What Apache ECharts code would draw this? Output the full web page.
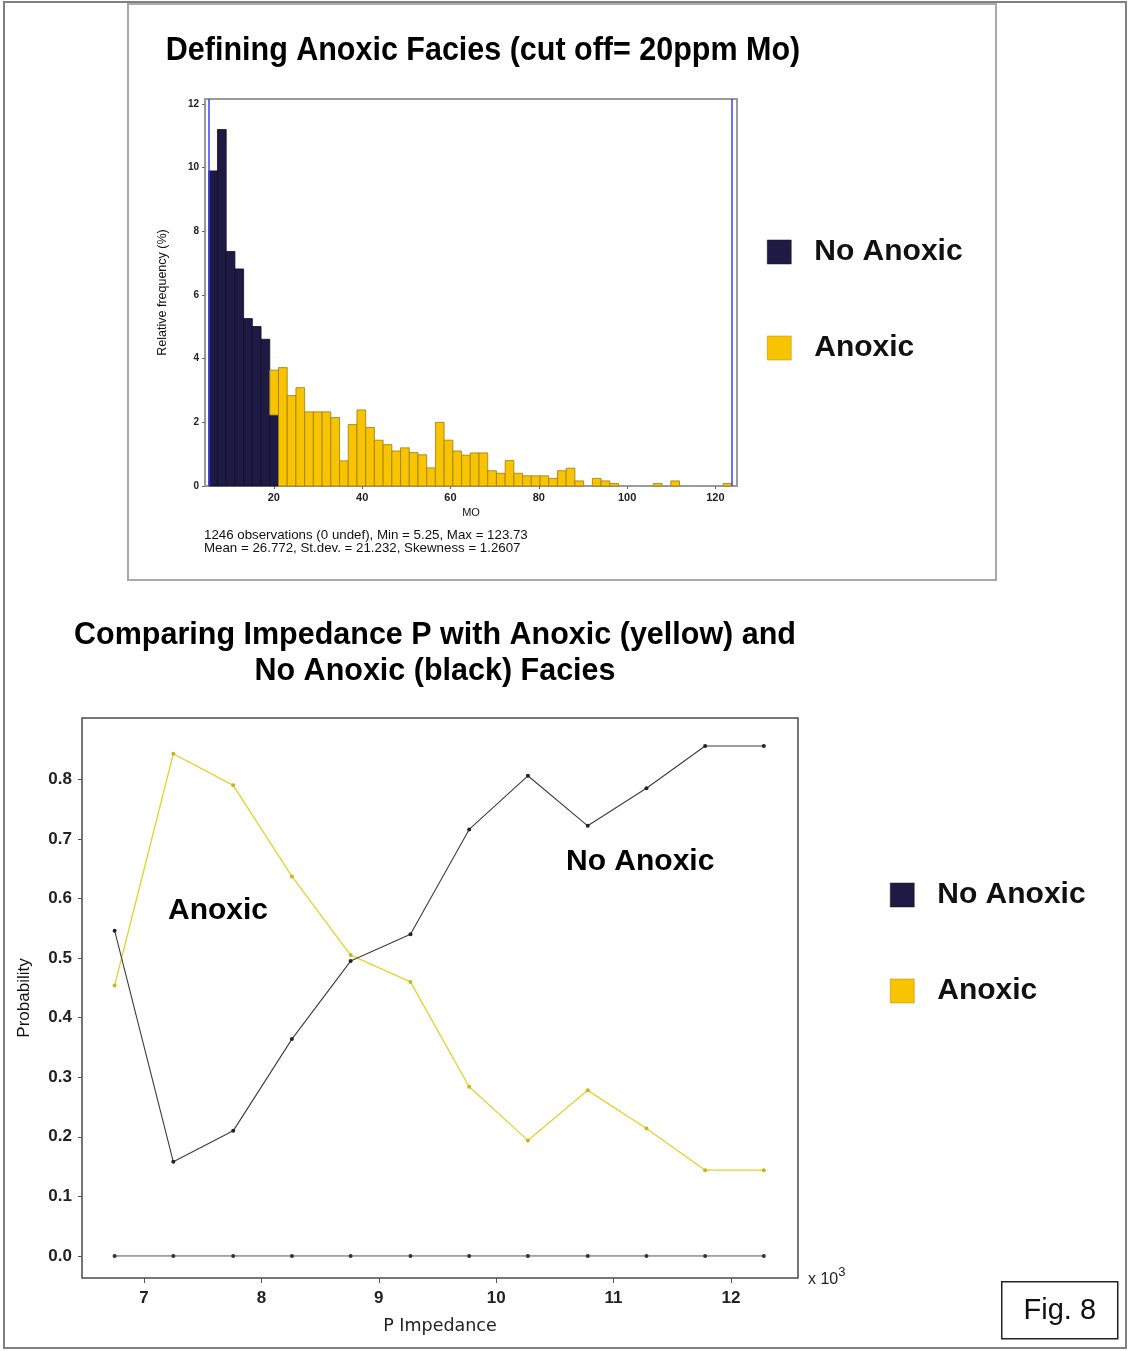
<!DOCTYPE html>
<html>
<head>
<meta charset="utf-8">
<script src="https://cdn.jsdelivr.net/npm/echarts@6/dist/echarts.min.js"></script>
<style>
  html, body { margin: 0; padding: 0; background: #fff; }
  #chart { width: 1129px; height: 1351px; }
</style>
</head>
<body>
<div id="chart"></div>
<script>
// ---- Mo histogram (relative frequency, %) ----
const MO_MIN = 5.25;
const MO_MAX = 123.73;
const BIN_COUNT = 60;
// first bins, below the 20 ppm cut-off
const noAnoxicFreq = [9.9, 11.2, 7.37, 6.82, 5.26, 5.01, 4.61, 2.23];
// all bins, above the cut-off (stacked on top of the No Anoxic part where both occur)
const anoxicFreq = [
  0, 0, 0, 0, 0, 0, 0, 1.41, 3.72, 2.84,
  3.09, 2.33, 2.33, 2.33, 2.15, 0.79, 1.93, 2.39, 1.84, 1.44,
  1.30, 1.10, 1.20, 1.05, 0.98, 0.57, 2.0, 1.44, 1.10, 0.97,
  1.04, 1.04, 0.48, 0.40, 0.80, 0.40, 0.32, 0.32, 0.32, 0.24,
  0.48, 0.56, 0.16, 0, 0.24, 0.16, 0.08, 0, 0, 0,
  0, 0.08, 0, 0.16, 0, 0, 0, 0, 0, 0.08
];
const moTicks = [20, 40, 60, 80, 100, 120];
const freqTicks = [0, 2, 4, 6, 8, 10, 12];
const statsLines = [
  '1246 observations (0 undef), Min = 5.25, Max = 123.73',
  'Mean = 26.772, St.dev. = 21.232, Skewness = 1.2607'
];

// ---- Probability vs. P impedance (x 10^3) ----
const impedanceK = [6.75, 7.25, 7.76, 8.26, 8.76, 9.27, 9.77, 10.27, 10.78, 11.28, 11.78, 12.28];
const probNoAnoxic = [0.546, 0.158, 0.210, 0.364, 0.495, 0.540, 0.716, 0.806, 0.722, 0.785, 0.856, 0.856];
const probAnoxic = [0.454, 0.843, 0.790, 0.637, 0.505, 0.460, 0.284, 0.194, 0.278, 0.214, 0.144, 0.144];
const probOther = [0, 0, 0, 0, 0, 0, 0, 0, 0, 0, 0, 0];
const impTicks = [7, 8, 9, 10, 11, 12];
const probTicks = [0, 0.1, 0.2, 0.3, 0.4, 0.5, 0.6, 0.7, 0.8];

const NAVY = '#1d1b44';
const GOLD = '#f8c300';
const BOLD_FONT = '"Liberation Sans", Arial, sans-serif';

// histogram rows: [binStart, binEnd, base, top]
const binWidth = (MO_MAX - MO_MIN) / BIN_COUNT;
function binStart(i) { return MO_MIN + i * binWidth; }
const noAnoxicRows = noAnoxicFreq.map((v, i) => [binStart(i), binStart(i + 1), 0, v]);
const anoxicRows = anoxicFreq.map((v, i) => {
  const base = i < noAnoxicFreq.length ? noAnoxicFreq[i] : 0;
  return [binStart(i), binStart(i + 1), base, v > 0 ? base + v : base];
});

function histItem(fill, stroke) {
  return function (params, api) {
    const base = api.value(2), top = api.value(3);
    if (top <= base) return null;
    const p0 = api.coord([api.value(0), top]);
    const p1 = api.coord([api.value(1), base]);
    return {
      type: 'rect',
      shape: { x: p0[0], y: p0[1], width: p1[0] - p0[0], height: p1[1] - p0[1] },
      style: { fill: fill, stroke: stroke, lineWidth: 0.8 }
    };
  };
}

const chart = echarts.init(document.getElementById('chart'), null, { renderer: 'canvas' });

const legendCommon = {
  orient: 'vertical',
  icon: 'rect',
  itemWidth: 24,
  itemHeight: 24,
  itemGap: 66,
  selectedMode: false,
  data: [
    { name: 'No Anoxic', itemStyle: { color: NAVY, borderColor: '#111', borderWidth: 0.5 } },
    { name: 'Anoxic', itemStyle: { color: GOLD, borderColor: '#b08a00', borderWidth: 0.5 } }
  ],
  textStyle: {
    fontFamily: BOLD_FONT, fontWeight: 'bold', fontSize: 30, color: '#111',
    padding: [0, 0, 0, 18]
  }
};

chart.setOption({
  backgroundColor: '#fff',
  animation: false,
  title: [
    {
      text: 'Comparing Impedance P with Anoxic (yellow) and\nNo Anoxic (black) Facies',
      left: 430, top: 613, textAlign: 'center',
      textStyle: { fontFamily: BOLD_FONT, fontWeight: 'bold', fontSize: 30.5, lineHeight: 36, color: '#000' }
    }
  ],
  legend: [
    Object.assign({}, legendCommon, { left: 762, top: 232 }),
    Object.assign({}, legendCommon, { left: 885, top: 875 })
  ],
  grid: [
    { left: 205, top: 99, width: 532, height: 387, show: true, borderColor: '#9a9a9a', borderWidth: 2, backgroundColor: '#fff' },
    { left: 82, top: 718, width: 716, height: 560, show: true, borderColor: '#4a4a4a', borderWidth: 1.5, backgroundColor: '#fff' }
  ],
  xAxis: [
    {
      type: 'value', gridIndex: 0, min: 4.4, max: 124.9,
      name: 'MO', nameLocation: 'middle', nameGap: 21,
      nameTextStyle: { fontFamily: BOLD_FONT, fontSize: 11, color: '#111' },
      axisLine: { show: false, onZero: false },
      splitLine: { show: false },
      axisTick: { show: true, length: 3, customValues: moTicks, lineStyle: { color: '#666' } },
      axisLabel: { customValues: moTicks, fontFamily: BOLD_FONT, fontWeight: 'bold', fontSize: 11, color: '#222', margin: 6 }
    },
    {
      type: 'value', gridIndex: 1, min: 6.472, max: 12.571,
      name: 'P Impedance', nameLocation: 'middle', nameGap: 39,
      nameTextStyle: { fontFamily: '"DejaVu Sans", sans-serif', fontSize: 17.5, color: '#222' },
      axisLine: { show: false, onZero: false },
      splitLine: { show: false },
      axisTick: { show: true, length: 5, customValues: impTicks, lineStyle: { color: '#555' } },
      axisLabel: { customValues: impTicks, fontFamily: BOLD_FONT, fontWeight: 'bold', fontSize: 17, color: '#222', margin: 12 }
    }
  ],
  yAxis: [
    {
      type: 'value', gridIndex: 0, min: 0, max: 12.16,
      name: 'Relative frequency (%)', nameLocation: 'middle', nameGap: 36, nameRotate: 90,
      nameTextStyle: { fontFamily: BOLD_FONT, fontSize: 12.5, color: '#111' },
      axisLine: { show: false, onZero: false },
      splitLine: { show: false },
      axisTick: { show: true, length: 3, customValues: freqTicks, lineStyle: { color: '#666' } },
      axisLabel: { customValues: freqTicks, fontFamily: BOLD_FONT, fontWeight: 'bold', fontSize: 10, color: '#222', margin: 6 }
    },
    {
      type: 'value', gridIndex: 1, min: -0.037, max: 0.903,
      name: 'Probability', nameLocation: 'middle', nameGap: 49, nameRotate: 90,
      nameTextStyle: { fontFamily: BOLD_FONT, fontSize: 17, color: '#111' },
      axisLine: { show: false, onZero: false },
      splitLine: { show: false },
      axisTick: { show: true, length: 4, customValues: probTicks, lineStyle: { color: '#555' } },
      axisLabel: {
        customValues: probTicks, fontFamily: BOLD_FONT, fontWeight: 'bold', fontSize: 17, color: '#222', margin: 10,
        formatter: v => v.toFixed(1)
      }
    }
  ],
  series: [
    {
      type: 'custom', name: 'No Anoxic', xAxisIndex: 0, yAxisIndex: 0,
      itemStyle: { color: NAVY },
      renderItem: histItem(NAVY, '#0c0b22'),
      encode: { x: [0, 1], y: [2, 3] },
      data: noAnoxicRows,
      z: 3
    },
    {
      type: 'custom', name: 'Anoxic', xAxisIndex: 0, yAxisIndex: 0,
      itemStyle: { color: GOLD },
      renderItem: histItem(GOLD, '#9a7d10'),
      encode: { x: [0, 1], y: [2, 3] },
      data: anoxicRows,
      z: 3,
      markLine: {
        silent: true, symbol: 'none', label: { show: false },
        lineStyle: { color: '#3f3cff', width: 1.5, type: 'solid' },
        data: [{ xAxis: MO_MIN }, { xAxis: MO_MAX }]
      }
    },
    {
      type: 'line', name: 'Undefined', xAxisIndex: 1, yAxisIndex: 1,
      data: impedanceK.map((x, i) => [x, probOther[i]]),
      symbol: 'circle', symbolSize: 4,
      lineStyle: { color: '#555', width: 1 },
      itemStyle: { color: '#333' },
      z: 3
    },
    {
      type: 'line', name: 'Anoxic', xAxisIndex: 1, yAxisIndex: 1,
      data: impedanceK.map((x, i) => [x, probAnoxic[i]]),
      symbol: 'circle', symbolSize: 4,
      lineStyle: { color: '#e4d22e', width: 1.3 },
      itemStyle: { color: '#c9b521' },
      z: 4
    },
    {
      type: 'line', name: 'No Anoxic', xAxisIndex: 1, yAxisIndex: 1,
      data: impedanceK.map((x, i) => [x, probNoAnoxic[i]]),
      symbol: 'circle', symbolSize: 4,
      lineStyle: { color: '#3c3c3c', width: 1.1 },
      itemStyle: { color: '#222' },
      z: 5
    }
  ],
  graphic: [
    // outer frame and the histogram panel box
    { type: 'rect', z: -10, shape: { x: 4, y: 2, width: 1122, height: 1346 }, style: { fill: 'none', stroke: '#808080', lineWidth: 2 } },
    { type: 'rect', z: -10, shape: { x: 128, y: 4, width: 868, height: 576 }, style: { fill: 'none', stroke: '#a8a8a8', lineWidth: 2 } },
    // histogram heading, set in a condensed bold face
    {
      type: 'text', x: 483, y: 51, scaleX: 0.91,
      style: {
        text: 'Defining Anoxic Facies (cut off= 20ppm Mo)', align: 'center', verticalAlign: 'middle',
        fontFamily: BOLD_FONT, fontWeight: 'bold', fontSize: 33.5, fill: '#000'
      }
    },
    // summary statistics under the histogram
    {
      type: 'text', left: 204, top: 529,
      style: { text: statsLines.join('\n'), fontFamily: BOLD_FONT, fontSize: 13.3, lineHeight: 13, fill: '#111' }
    },
    // curve annotations
    {
      type: 'text', left: 168, top: 896,
      style: { text: 'Anoxic', fontFamily: BOLD_FONT, fontWeight: 'bold', fontSize: 30, fill: '#000' }
    },
    {
      type: 'text', left: 566, top: 847,
      style: { text: 'No Anoxic', fontFamily: BOLD_FONT, fontWeight: 'bold', fontSize: 30, fill: '#000' }
    },
    // axis multiplier
    {
      type: 'text', left: 808, top: 1266,
      style: {
        text: '{b|x 10}{s|3}',
        rich: {
          b: { fontFamily: BOLD_FONT, fontSize: 16, fill: '#222', padding: [8, 0, 0, 0] },
          s: { fontFamily: BOLD_FONT, fontSize: 13, fill: '#222', padding: [0, 0, 6, 0] }
        }
      }
    },
    // figure tag
    {
      type: 'group', left: 1001, top: 1281,
      children: [
        { type: 'rect', shape: { x: 0, y: 0, width: 116, height: 57 }, style: { fill: '#fff', stroke: '#222', lineWidth: 1.5 } },
        { type: 'text', x: 58, y: 29, style: { text: 'Fig. 8', align: 'center', verticalAlign: 'middle', fontFamily: BOLD_FONT, fontSize: 29, fill: '#111' } }
      ]
    }
  ]
});
</script>
</body>
</html>
